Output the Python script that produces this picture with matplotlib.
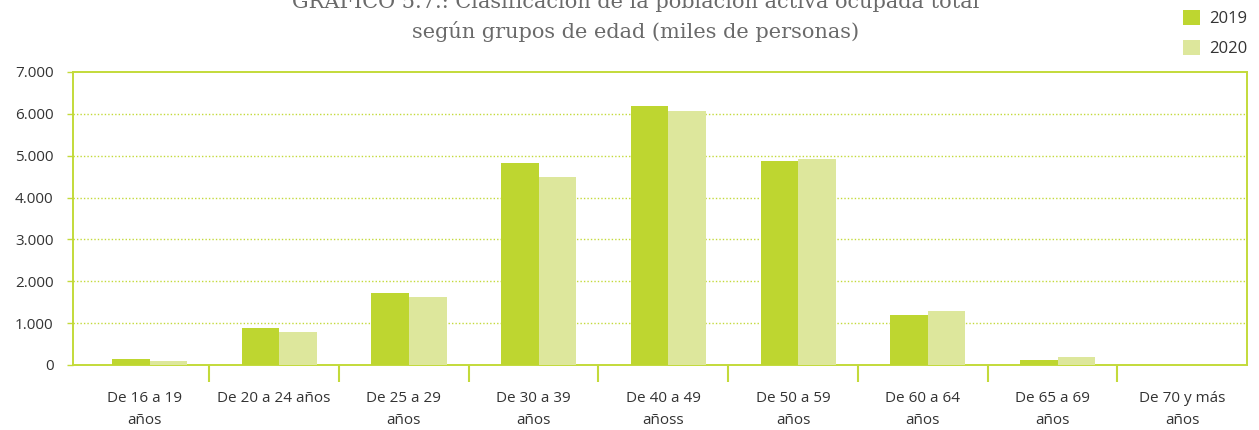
import matplotlib
matplotlib.use("Agg")
import matplotlib.pyplot as plt
import numpy as np

categories = ["De 16 a 19\naños", "De 20 a 24 años", "De 25 a 29\naños", "De 30 a 39\naños",
              "De 40 a 49\nañoss", "De 50 a 59\naños", "De 60 a 64\naños", "De 65 a 69\naños",
              "De 70 y más\naños"]
v2019 = [150, 890, 1710, 4820, 6190, 4870, 1190, 130, 0]
v2020 = [100, 800, 1620, 4480, 6070, 4910, 1280, 200, 0]
yticks = [0, 1000, 2000, 3000, 4000, 5000, 6000, 7000]
ytick_labels = ["0", "1.000", "2.000", "3.000", "4.000", "5.000", "6.000", "7.000"]

c2019 = "#bed630"
c2020 = "#dde79c"
lime = "#c3da3a"
textc = "#333333"

plt.rcParams['font.family'] = ['Open Sans', 'DejaVu Sans']

fig = plt.figure(figsize=(12.59, 4.30), dpi=100)
ax = fig.add_axes([73/1259, 65/430, (1247-73)/1259, (365-72)/430])

x = np.arange(len(categories))
w = 0.29
ax.bar(x + 0.04 - w/2, v2019, w, color=c2019, label="2019", zorder=3)
ax.bar(x + 0.04 + w/2, v2020, w, color=c2020, label="2020", zorder=3)

ax.set_xlim(-0.55, 8.5)
ax.set_ylim(0, 7000)
ax.set_yticks(yticks)
ax.set_yticklabels(ytick_labels, fontsize=11, color=textc)
ax.set_xticks(x)
ax.set_xticklabels(categories, fontsize=11, color=textc, linespacing=1.6)
ax.set_xticks(np.arange(len(categories) - 1) + 0.5, minor=True)
ax.tick_params(axis='x', which='major', length=0, pad=19)
ax.tick_params(axis='x', which='minor', length=12, width=1.5, color=lime)
ax.tick_params(axis='y', length=4, width=1, color=lime, pad=10)

for s in ax.spines.values():
    s.set_color(lime)
    s.set_linewidth(1.4)

for yv in yticks[1:-1]:
    ax.axhline(yv, color=lime, linestyle=(0, (1, 1.5)), linewidth=1, zorder=1)

fig.text(0.505, 1.0 - 1/430, "GRÁFICO 5.7.: Clasificación de la población activa ocupada total",
         ha='center', va='center', fontsize=15, color='#6a6a6a', family='DejaVu Serif')
fig.text(0.505, 1 - 32/430, "según grupos de edad (miles de personas)",
         ha='center', va='center', fontsize=15, color='#6a6a6a', family='DejaVu Serif')

leg = fig.legend(loc='upper right', bbox_to_anchor=(1247/1259, 1 - 10/430), frameon=False,
                 fontsize=12, handlelength=1.0, handleheight=1.0, handletextpad=0.55,
                 labelspacing=0.75, labelcolor=textc, borderpad=0.0, borderaxespad=0.0)

fig.savefig("out.png", dpi=100)
